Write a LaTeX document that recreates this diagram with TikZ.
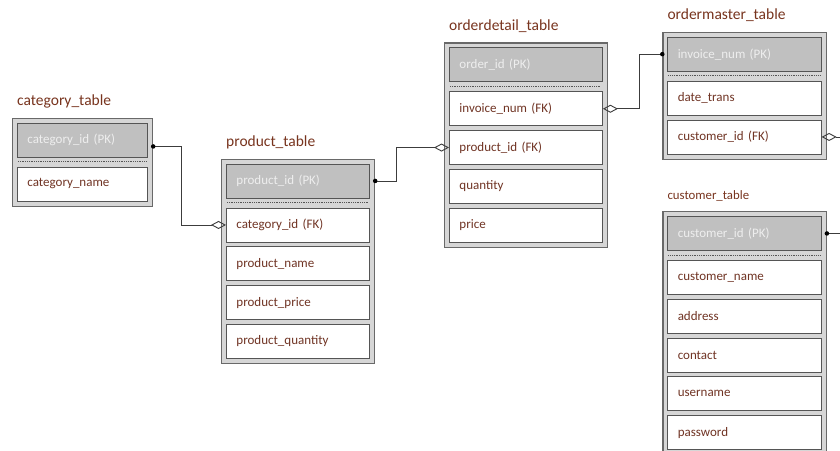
\documentclass[tikz,border=0pt]{standalone}
\usepackage{fontspec}
\setmainfont{Carlito}
\usetikzlibrary{arrows.meta,calc}
\definecolor{erbrown}{RGB}{112,52,36}
\definecolor{ertitle}{RGB}{120,52,30}
\definecolor{pkfill}{RGB}{192,192,192}
\definecolor{pktext}{RGB}{238,238,238}
\definecolor{outerfill}{RGB}{214,214,214}
\definecolor{outerline}{RGB}{105,105,105}
\definecolor{boxline}{RGB}{85,85,85}
\definecolor{connline}{RGB}{60,60,60}
\tikzset{
 outerbox/.style={draw=outerline, fill=outerfill, line width=1.2pt, inner sep=0pt},
 pkbox/.style={draw=boxline, fill=pkfill, line width=0.9pt, minimum height=34pt, inner xsep=10pt, inner ysep=0pt, align=left, font=\fontsize{13}{15}\selectfont, text=pktext},
 fieldbox/.style={pkbox, fill=white, text=erbrown},
 tabletitle/.style={text=ertitle, inner sep=0pt, anchor=base west},
 sepline/.style={draw=boxline, densely dotted, line width=0.8pt},
 conn/.style={draw=connline, line width=0.9pt},
 erdot/.style={circle, fill=black, inner sep=0pt, minimum size=4.5pt},
 diamend/.style={-{Diamond[open, length=15pt, width=8pt]}},
 diamstart/.style={{Diamond[open, length=15pt, width=8pt]}-},
}
% #1 name #2 x0 #3 w #4 ypk #5 n #6 title size #7 title #8 pk #9 fields
\newcommand{\ertable}[9]{%
 \pgfmathsetmacro\ertw{#3-20}%
 \pgfmathsetmacro\erow{#3+10}%
 \pgfmathsetmacro\eroh{44+(#5-1)*38.8+34+10}%
 \node[outerbox, minimum width=\erow pt, minimum height=\eroh pt, anchor=north west] (#1) at (#2-5,#4-5) {};
 \node[tabletitle, font=\fontsize{#6}{#6}\selectfont] (#1-title) at (#2,#4-17) {#7};
 \node[pkbox, text width=\ertw pt, anchor=north west] (#1-pk) at (#2,#4) {#8};
 \draw[sepline] (#2+1,#4+39) -- (#2+#3-1,#4+39);
 \foreach \t [count=\i] in {#9} {
   \node[fieldbox, text width=\ertw pt, anchor=north west] (#1-f\i) at (#2,{#4+44+(\i-1)*38.8}) {\t};
 }
}
\begin{document}
\begin{tikzpicture}[x=1pt,y=-1pt]
\clip (0,0) rectangle (840,450);
\fill[white] (0,0) rectangle (840,450);

\ertable{category}{17}{130}{122.5}{1}{15.5}{category\_table}{category\_id (PK)}{category\_name}
\ertable{product}{226}{143}{163.5}{4}{15.5}{product\_table}{product\_id (PK)}{category\_id (FK),product\_name,product\_price,product\_quantity}
\ertable{orderdetail}{449}{153}{47.3}{4}{15.5}{orderdetail\_table}{order\_id (PK)}{invoice\_num (FK),product\_id (FK),quantity,price}
\ertable{ordermaster}{667.3}{153.4}{36.7}{2}{15.5}{ordermaster\_table}{invoice\_num (PK)}{date\_trans,customer\_id (FK)}
\ertable{customer}{667.3}{153.4}{216}{5}{12.8}{customer\_table}{customer\_id (PK)}{customer\_name,address,contact,username,password}

\coordinate (v1) at (181,0);
\coordinate (v2) at (396,0);
\coordinate (v3) at (639,0);
\coordinate (edgeR) at (845,0);
\coordinate (c1) at ($(category-pk.east)+(0,6.5)$);

\draw[conn, diamend] (category.east |- c1) -| (v1 |- product-f1.west) -- (product-f1.west);
\node[erdot] (d1) at (category.east |- c1) {};

\draw[conn, diamend] (product.east |- product-pk) -| (v2 |- orderdetail-f2.west) -- (orderdetail-f2.west);
\node[erdot] (d2) at (product.east |- product-pk) {};

\draw[conn, diamend] (ordermaster.west |- ordermaster-pk) -| (v3 |- orderdetail-f1.east) -- (orderdetail-f1.east);
\node[erdot] (d3) at (ordermaster.west |- ordermaster-pk) {};

\draw[conn] (customer.east |- customer-pk) -- (edgeR |- customer-pk);
\node[erdot] (d4) at (customer.east |- customer-pk) {};
\draw[conn, diamstart] (ordermaster-f2.east) -- (edgeR |- ordermaster-f2.east);
\end{tikzpicture}
\end{document}
